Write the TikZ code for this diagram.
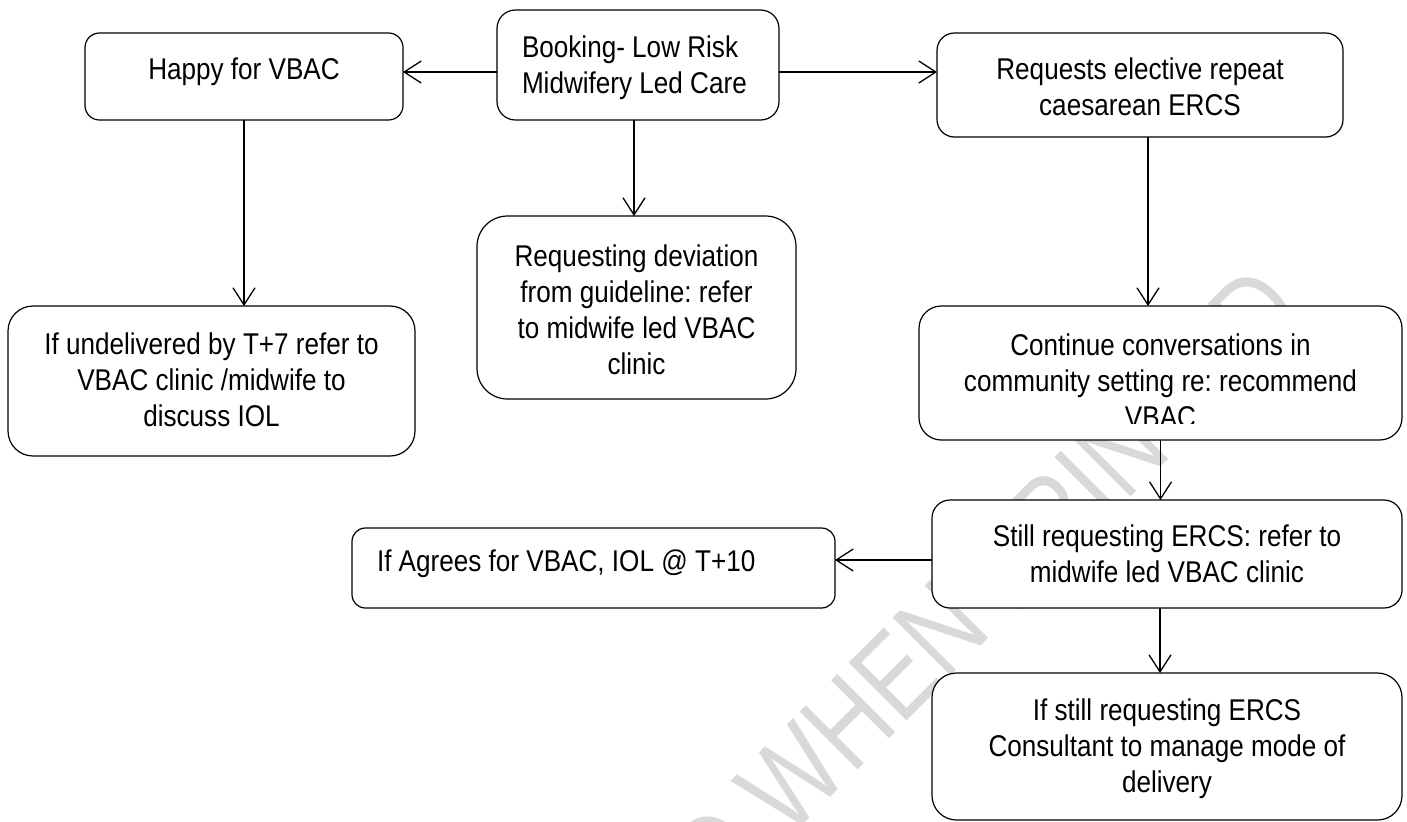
\documentclass[tikz,border=0pt]{standalone}
\usepackage{fontspec}
\setmainfont{Liberation Sans}[FakeStretch=0.87]
\newfontfamily\markfont{Liberation Sans}[FakeStretch=0.8]
\usetikzlibrary{arrows.meta}
\frenchspacing
\newdimen\pxu \pxu=0.5pt
% top-aligned box text: width, height, first baseline (all in px), text
\newcommand\ctext[4]{\parbox[c][#2\pxu][t]{#1\pxu}{\centering\rule{0pt}{#3\pxu}#4}}
\newcommand\ltext[4]{\parbox[c][#2\pxu][t]{#1\pxu}{\raggedright\leftskip=25\pxu\rule{0pt}{#3\pxu}#4}}
\begin{document}
\begin{tikzpicture}[x=0.5pt, y=-0.5pt,
  box/.style={draw=black, line width=0.6pt, fill=white, inner sep=0pt, outer sep=0pt,
    anchor=north west, font=\fontsize{15pt}{18pt}\selectfont},
  arr/.style={line width=0.65pt, -{Straight Barb[length=8.5pt, width=11pt]}}]
\useasboundingbox (0,0) rectangle (1407,821);
\clip (0,0) rectangle (1407,821);
\fill[white] (0,0) rectangle (1407,821);

% watermark behind the boxes
\node[rotate=45, text=black!15, inner sep=0pt,
  font=\markfont\fontsize{59.5pt}{60pt}\selectfont] (mark) at (732,838) {UNCONTROLLED WHEN PRINTED};

% boxes
\node[box, rounded corners=7.25pt] (happy) at (85,33)
  {\ctext{318}{87}{46}{Happy for VBAC}};
\node[box, rounded corners=9.2pt] (book) at (497,10)
  {\ltext{282}{110}{47}{Booking- Low Risk\\Midwifery Led Care}};
\node[box, rounded corners=8.7pt] (req) at (937,33)
  {\ctext{406}{104}{46.5}{Requests elective repeat\\caesarean ERCS}};
\node[box, rounded corners=12.5pt] (undel) at (8,306)
  {\ctext{407}{150}{48}{If undelivered by T+7 refer to\\VBAC clinic /midwife to\\discuss IOL}};
\node[box, rounded corners=15.25pt] (dev) at (477,216)
  {\ctext{319}{183}{50}{Requesting deviation\\from guideline: refer\\to midwife led VBAC\\clinic}};
\node[box, rounded corners=11.15pt, minimum width=241.5pt, minimum height=67pt,
  path picture={
    \begin{scope}[sharp corners]
    \clip ([yshift=8.5pt]path picture bounding box.south west) rectangle (path picture bounding box.north east);
    \node[anchor=north west, inner sep=0pt, draw=none, fill=none, font=\fontsize{15pt}{18pt}\selectfont]
      at (path picture bounding box.north west)
      {\ctext{483}{134}{49}{Continue conversations in\\community setting re: recommend\\VBAC}};
    \end{scope}
  }] (cont) at (919,306) {};
\node[box, rounded corners=9pt] (still) at (932,500)
  {\ctext{470}{108}{46.5}{Still requesting ERCS: refer to\\midwife led VBAC clinic}};
\node[box, rounded corners=6.7pt] (agree) at (352,528)
  {\ltext{483}{80}{43}{If Agrees for VBAC, IOL @ T+10}};
\node[box, rounded corners=12.25pt] (final) at (932,673)
  {\ctext{470}{147}{47.5}{If still requesting ERCS\\Consultant to manage mode of\\delivery}};

% connectors
\draw[arr] ([yshift=-3.5pt]book.west) coordinate (b1) -- (b1 -| happy.east);
\draw[arr] ([yshift=-3.5pt]book.east) coordinate (b2) -- (b2 -| req.west);
\draw[arr] ([xshift=-2pt]book.south) coordinate (b3) -- (b3 |- dev.north);
\draw[arr] (happy.south) -- (happy.south |- undel.north);
\draw[arr] ([xshift=4pt]req.south) coordinate (r1) -- (r1 |- cont.north);
\draw[arr] (cont.south) -- (cont.south |- still.north);
\draw[arr] ([yshift=-3pt]still.west) coordinate (s1) -- (s1 -| agree.east);
\draw[arr] ([xshift=-3.5pt]still.south) coordinate (s2) -- (s2 |- final.north);
\end{tikzpicture}
\end{document}
